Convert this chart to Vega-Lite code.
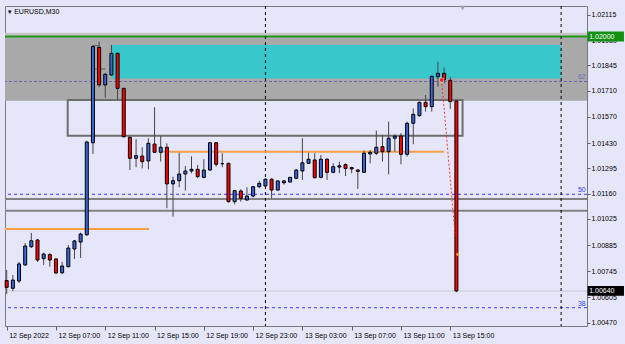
{
  "$schema": "https://vega.github.io/schema/vega-lite/v6.json",
  "width": 582,
  "height": 320,
  "autosize": {"type": "none"},
  "padding": {"left": 5, "top": 6, "right": 38, "bottom": 18},
  "background": "#e6e6fa",
  "resolve": {"axis": {"x": "independent", "y": "independent"}},
  "config": {
    "view": {"stroke": "#7a7a7a", "strokeWidth": 1, "fill": "#e6e6fa"},
    "text": {"font": "Liberation Sans", "fontSize": 7},
    "axis": {"labelFont": "Liberation Sans", "labelFontSize": 7, "labelColor": "#000000", "tickColor": "#606060", "domain": false, "grid": false, "labelFlush": false, "labelOverlap": false, "labelBound": false}
  },
  "datasets": {
    "candles": [
      {"i": 0, "o": 1.00695, "h": 1.00752, "l": 1.00623, "c": 1.00659},
      {"i": 1, "o": 1.00654, "h": 1.00725, "l": 1.00640, "c": 1.00698},
      {"i": 2, "o": 1.00693, "h": 1.00795, "l": 1.00682, "c": 1.00784},
      {"i": 3, "o": 1.00779, "h": 1.00896, "l": 1.00773, "c": 1.00880},
      {"i": 4, "o": 1.00876, "h": 1.00950, "l": 1.00869, "c": 1.00908},
      {"i": 5, "o": 1.00912, "h": 1.00918, "l": 1.00795, "c": 1.00805},
      {"i": 6, "o": 1.00812, "h": 1.00844, "l": 1.00779, "c": 1.00837},
      {"i": 7, "o": 1.00834, "h": 1.00843, "l": 1.00769, "c": 1.00805},
      {"i": 8, "o": 1.00811, "h": 1.00812, "l": 1.00730, "c": 1.00736},
      {"i": 9, "o": 1.00737, "h": 1.00796, "l": 1.00729, "c": 1.00773},
      {"i": 10, "o": 1.00769, "h": 1.00885, "l": 1.00768, "c": 1.00869},
      {"i": 11, "o": 1.00864, "h": 1.00912, "l": 1.00811, "c": 1.00907},
      {"i": 12, "o": 1.00901, "h": 1.00951, "l": 1.00816, "c": 1.00944},
      {"i": 13, "o": 1.00940, "h": 1.01443, "l": 1.00934, "c": 1.01436},
      {"i": 14, "o": 1.01432, "h": 1.01955, "l": 1.01372, "c": 1.01946},
      {"i": 15, "o": 1.01942, "h": 1.01972, "l": 1.01729, "c": 1.01741},
      {"i": 16, "o": 1.01741, "h": 1.01805, "l": 1.01673, "c": 1.01798},
      {"i": 17, "o": 1.01794, "h": 1.01955, "l": 1.01791, "c": 1.01910},
      {"i": 18, "o": 1.01910, "h": 1.01914, "l": 1.01661, "c": 1.01723},
      {"i": 19, "o": 1.01723, "h": 1.01726, "l": 1.01461, "c": 1.01464},
      {"i": 20, "o": 1.01461, "h": 1.01464, "l": 1.01286, "c": 1.01349},
      {"i": 21, "o": 1.01349, "h": 1.01451, "l": 1.01301, "c": 1.01363},
      {"i": 22, "o": 1.01361, "h": 1.01408, "l": 1.01295, "c": 1.01331},
      {"i": 23, "o": 1.01335, "h": 1.01456, "l": 1.01290, "c": 1.01429},
      {"i": 24, "o": 1.01425, "h": 1.01622, "l": 1.01378, "c": 1.01381},
      {"i": 25, "o": 1.01381, "h": 1.01468, "l": 1.01331, "c": 1.01408},
      {"i": 26, "o": 1.01408, "h": 1.01429, "l": 1.01082, "c": 1.01212},
      {"i": 27, "o": 1.01212, "h": 1.01251, "l": 1.01037, "c": 1.01229},
      {"i": 28, "o": 1.01229, "h": 1.01379, "l": 1.01194, "c": 1.01265},
      {"i": 29, "o": 1.01265, "h": 1.01308, "l": 1.01176, "c": 1.01281},
      {"i": 30, "o": 1.01281, "h": 1.01359, "l": 1.01269, "c": 1.01290},
      {"i": 31, "o": 1.01290, "h": 1.01313, "l": 1.01242, "c": 1.01251},
      {"i": 32, "o": 1.01247, "h": 1.01344, "l": 1.01242, "c": 1.01286},
      {"i": 33, "o": 1.01286, "h": 1.01436, "l": 1.01284, "c": 1.01432},
      {"i": 34, "o": 1.01432, "h": 1.01436, "l": 1.01304, "c": 1.01317},
      {"i": 35, "o": 1.01320, "h": 1.01376, "l": 1.01301, "c": 1.01320},
      {"i": 36, "o": 1.01322, "h": 1.01325, "l": 1.01112, "c": 1.01117},
      {"i": 37, "o": 1.01117, "h": 1.01179, "l": 1.01103, "c": 1.01176},
      {"i": 38, "o": 1.01174, "h": 1.01183, "l": 1.01117, "c": 1.01135},
      {"i": 39, "o": 1.01126, "h": 1.01194, "l": 1.01122, "c": 1.01147},
      {"i": 40, "o": 1.01147, "h": 1.01201, "l": 1.01140, "c": 1.01197},
      {"i": 41, "o": 1.01197, "h": 1.01229, "l": 1.01189, "c": 1.01215},
      {"i": 42, "o": 1.01201, "h": 1.01242, "l": 1.01197, "c": 1.01237},
      {"i": 43, "o": 1.01237, "h": 1.01242, "l": 1.01135, "c": 1.01179},
      {"i": 44, "o": 1.01179, "h": 1.01229, "l": 1.01176, "c": 1.01228},
      {"i": 45, "o": 1.01218, "h": 1.01233, "l": 1.01208, "c": 1.01228},
      {"i": 46, "o": 1.01222, "h": 1.01249, "l": 1.01220, "c": 1.01247},
      {"i": 47, "o": 1.01242, "h": 1.01292, "l": 1.01238, "c": 1.01286},
      {"i": 48, "o": 1.01281, "h": 1.01456, "l": 1.01233, "c": 1.01325},
      {"i": 49, "o": 1.01322, "h": 1.01379, "l": 1.01321, "c": 1.01344},
      {"i": 50, "o": 1.01340, "h": 1.01376, "l": 1.01242, "c": 1.01245},
      {"i": 51, "o": 1.01247, "h": 1.01367, "l": 1.01242, "c": 1.01344},
      {"i": 52, "o": 1.01344, "h": 1.01349, "l": 1.01233, "c": 1.01274},
      {"i": 53, "o": 1.01274, "h": 1.01322, "l": 1.01269, "c": 1.01304},
      {"i": 54, "o": 1.01302, "h": 1.01331, "l": 1.01269, "c": 1.01309},
      {"i": 55, "o": 1.01315, "h": 1.01322, "l": 1.01254, "c": 1.01295},
      {"i": 56, "o": 1.01299, "h": 1.01304, "l": 1.01269, "c": 1.01292},
      {"i": 57, "o": 1.01286, "h": 1.01290, "l": 1.01185, "c": 1.01279},
      {"i": 58, "o": 1.01274, "h": 1.01390, "l": 1.01272, "c": 1.01376},
      {"i": 59, "o": 1.01372, "h": 1.01393, "l": 1.01322, "c": 1.01381},
      {"i": 60, "o": 1.01376, "h": 1.01497, "l": 1.01367, "c": 1.01408},
      {"i": 61, "o": 1.01411, "h": 1.01474, "l": 1.01331, "c": 1.01384},
      {"i": 62, "o": 1.01384, "h": 1.01545, "l": 1.01263, "c": 1.01456},
      {"i": 63, "o": 1.01456, "h": 1.01477, "l": 1.01384, "c": 1.01467},
      {"i": 64, "o": 1.01468, "h": 1.01483, "l": 1.01317, "c": 1.01370},
      {"i": 65, "o": 1.01370, "h": 1.01545, "l": 1.01358, "c": 1.01536},
      {"i": 66, "o": 1.01536, "h": 1.01616, "l": 1.01424, "c": 1.01584},
      {"i": 67, "o": 1.01577, "h": 1.01652, "l": 1.01571, "c": 1.01648},
      {"i": 68, "o": 1.01648, "h": 1.01687, "l": 1.01598, "c": 1.01625},
      {"i": 69, "o": 1.01625, "h": 1.01791, "l": 1.01598, "c": 1.01787},
      {"i": 70, "o": 1.01785, "h": 1.01865, "l": 1.01732, "c": 1.01803},
      {"i": 71, "o": 1.01803, "h": 1.01833, "l": 1.01750, "c": 1.01768},
      {"i": 72, "o": 1.01766, "h": 1.01785, "l": 1.01613, "c": 1.01652},
      {"i": 73, "o": 1.01655, "h": 1.01655, "l": 1.00633, "c": 1.00640}
    ]
  },
  "layer": [
    {
      "data": {"values": [{"top": 1.0202, "bottom": 1.0200}]},
      "mark": {"type": "rect", "fill": "#c4c4c4"},
      "encoding": {
        "y": {"field": "top", "type": "quantitative", "axis": null, "scale": {"domain": [1.004523, 1.021631], "nice": false, "zero": false}},
        "y2": {"field": "bottom"}
      }
    },
    {
      "data": {"values": [{"top": 1.0200, "bottom": 1.01657}]},
      "mark": {"type": "rect", "fill": "#a9a9a9"},
      "encoding": {
        "y": {"field": "top", "type": "quantitative", "axis": null, "scale": {"domain": [1.004523, 1.021631], "nice": false, "zero": false}},
        "y2": {"field": "bottom"}
      }
    },
    {
      "data": {"values": [{"x1": 17, "x2": 90, "top": 1.01955, "bottom": 1.017755}]},
      "mark": {"type": "rect", "fill": "#38c7cb"},
      "encoding": {
        "x": {"field": "x1", "type": "quantitative", "axis": null, "scale": {"domain": [-0.276, 94.2], "nice": false, "zero": false, "padding": 0}},
        "x2": {"field": "x2"},
        "y": {"field": "top", "type": "quantitative", "axis": null, "scale": {"domain": [1.004523, 1.021631], "nice": false, "zero": false}},
        "y2": {"field": "bottom"}
      }
    },
    {
      "data": {"values": [{"p": 1.017595}]},
      "mark": {"type": "rule", "stroke": "#6a6ab4", "strokeDash": [3, 2], "strokeWidth": 1},
      "encoding": {"y": {"field": "p", "type": "quantitative", "axis": null, "scale": {"domain": [1.004523, 1.021631], "nice": false, "zero": false}}}
    },
    {
      "data": {"values": [{"p": 1.011565}, {"p": 1.005502}]},
      "mark": {"type": "rule", "stroke": "#3b3bff", "strokeDash": [3, 3], "strokeWidth": 1},
      "encoding": {"y": {"field": "p", "type": "quantitative", "axis": null, "scale": {"domain": [1.004523, 1.021631], "nice": false, "zero": false}}}
    },
    {
      "data": {"values": [{"p": 1.011313}, {"p": 1.010687}]},
      "mark": {"type": "rule", "stroke": "#828282", "strokeWidth": 2},
      "encoding": {"y": {"field": "p", "type": "quantitative", "axis": null, "scale": {"domain": [1.004523, 1.021631], "nice": false, "zero": false}}}
    },
    {
      "data": {"values": [{"p": 1.006395}]},
      "mark": {"type": "rule", "stroke": "#c8c8d0", "strokeWidth": 1},
      "encoding": {"y": {"field": "p", "type": "quantitative", "axis": null, "scale": {"domain": [1.004523, 1.021631], "nice": false, "zero": false}}}
    },
    {
      "data": {"values": [{"p": 1.0200}]},
      "mark": {"type": "rule", "stroke": "#1e961e", "strokeWidth": 2},
      "encoding": {"y": {"field": "p", "type": "quantitative", "axis": null, "scale": {"domain": [1.004523, 1.021631], "nice": false, "zero": false}}}
    },
    {
      "data": {"values": [{"d": 42}, {"d": 90}]},
      "mark": {"type": "rule", "stroke": "#000000", "strokeDash": [3, 3], "strokeWidth": 1},
      "encoding": {"x": {"field": "d", "type": "quantitative", "axis": null, "scale": {"domain": [-0.276, 94.2], "nice": false, "zero": false, "padding": 0}}}
    },
    {
      "data": {"values": [{"x1": 9.9, "x2": 74.0, "top": 1.016606, "bottom": 1.014698}]},
      "mark": {"type": "rect", "fillOpacity": 0, "stroke": "#6e6e6e", "strokeWidth": 2},
      "encoding": {
        "x": {"field": "x1", "type": "quantitative", "axis": null, "scale": {"domain": [-0.276, 94.2], "nice": false, "zero": false, "padding": 0}},
        "x2": {"field": "x2"},
        "y": {"field": "top", "type": "quantitative", "axis": null, "scale": {"domain": [1.004523, 1.021631], "nice": false, "zero": false}},
        "y2": {"field": "bottom"}
      }
    },
    {
      "data": {"values": [{"x1": -0.276, "x2": 23.1, "p": 1.009709}, {"x1": 25, "x2": 71, "p": 1.013842}]},
      "mark": {"type": "rule", "stroke": "#f5a043", "strokeWidth": 2},
      "encoding": {
        "x": {"field": "x1", "type": "quantitative", "axis": null, "scale": {"domain": [-0.276, 94.2], "nice": false, "zero": false, "padding": 0}},
        "x2": {"field": "x2"},
        "y": {"field": "p", "type": "quantitative", "axis": null, "scale": {"domain": [1.004523, 1.021631], "nice": false, "zero": false}}
      }
    },
    {
      "data": {"values": [{"x1": 14, "x2": 15, "p": 1.019509}, {"x1": 14, "x2": 16, "p": 1.018263}]},
      "mark": {"type": "rule", "stroke": "#5a5a5a", "strokeWidth": 1},
      "encoding": {
        "x": {"field": "x1", "type": "quantitative", "axis": null, "scale": {"domain": [-0.276, 94.2], "nice": false, "zero": false, "padding": 0}},
        "x2": {"field": "x2"},
        "y": {"field": "p", "type": "quantitative", "axis": null, "scale": {"domain": [1.004523, 1.021631], "nice": false, "zero": false}}
      }
    },
    {
      "data": {"name": "candles"},
      "mark": {"type": "rule", "stroke": "#454545", "strokeWidth": 1},
      "encoding": {
        "x": {"field": "i", "type": "quantitative", "axis": null, "scale": {"domain": [-0.276, 94.2], "nice": false, "zero": false, "padding": 0}},
        "y": {"field": "l", "type": "quantitative", "axis": null, "scale": {"domain": [1.004523, 1.021631], "nice": false, "zero": false}},
        "y2": {"field": "h"}
      }
    },
    {
      "data": {"name": "candles"},
      "mark": {"type": "bar", "size": 3, "stroke": "#000000", "strokeWidth": 1},
      "encoding": {
        "x": {
          "field": "i", "type": "quantitative",
          "scale": {"domain": [-0.276, 94.2], "nice": false, "zero": false, "padding": 0},
          "axis": {
            "orient": "bottom", "title": null, "values": [0, 8, 16, 24, 32, 40, 48, 56, 64, 72],
            "labelExpr": "['12 Sep 2022','12 Sep 07:00','12 Sep 11:00','12 Sep 15:00','12 Sep 19:00','12 Sep 23:00','13 Sep 03:00','13 Sep 07:00','13 Sep 11:00','13 Sep 15:00'][round(datum.value/8)]",
            "labelAlign": "left", "labelBaseline": "top", "labelOffset": 2, "labelPadding": 1,
            "tickSize": 4, "labelOverlap": false, "labelFlush": false, "labelBound": false
          }
        },
        "y": {
          "field": "o", "type": "quantitative",
          "scale": {"domain": [1.004523, 1.021631], "nice": false, "zero": false},
          "axis": {
            "orient": "right", "title": null,
            "values": [1.02115, 1.0198, 1.01845, 1.0171, 1.0157, 1.0143, 1.01295, 1.0116, 1.01025, 1.00885, 1.00745, 1.00605, 1.0047],
            "format": ".5f", "labelPadding": 1, "tickSize": 3, "labelOverlap": false, "labelFlush": false, "labelBound": false
          }
        },
        "y2": {"field": "c"},
        "fill": {
          "condition": [
            {"test": "datum.c > datum.o", "value": "#3a66d8"},
            {"test": "datum.c < datum.o", "value": "#ff0000"}
          ],
          "value": "#000000"
        }
      }
    },
    {
      "data": {"values": [{"t": 70.6, "p": 1.017675}, {"t": 72.8, "p": 1.009335}]},
      "mark": {"type": "line", "stroke": "#ff3030", "strokeDash": [2, 2], "strokeWidth": 1},
      "encoding": {
        "x": {"field": "t", "type": "quantitative", "axis": null, "scale": {"domain": [-0.276, 94.2], "nice": false, "zero": false, "padding": 0}},
        "y": {"field": "p", "type": "quantitative", "axis": null, "scale": {"domain": [1.004523, 1.021631], "nice": false, "zero": false}}
      }
    },
    {
      "data": {"values": [{"t": 70.6, "p": 1.017675}]},
      "mark": {"type": "point", "filled": true, "fill": "#ff2020", "stroke": "#ffffff", "strokeWidth": 0.5, "size": 22, "opacity": 1},
      "encoding": {
        "x": {"field": "t", "type": "quantitative", "axis": null, "scale": {"domain": [-0.276, 94.2], "nice": false, "zero": false, "padding": 0}},
        "y": {"field": "p", "type": "quantitative", "axis": null, "scale": {"domain": [1.004523, 1.021631], "nice": false, "zero": false}}
      }
    },
    {
      "data": {"values": [{"t": 73.2, "p": 1.008357}]},
      "mark": {"type": "point", "shape": "diamond", "filled": true, "fill": "#ffa030", "size": 14, "opacity": 1},
      "encoding": {
        "x": {"field": "t", "type": "quantitative", "axis": null, "scale": {"domain": [-0.276, 94.2], "nice": false, "zero": false, "padding": 0}},
        "y": {"field": "p", "type": "quantitative", "axis": null, "scale": {"domain": [1.004523, 1.021631], "nice": false, "zero": false}}
      }
    },
    {
      "data": {"values": [{"t": 74.0, "p": 1.021524}]},
      "mark": {"type": "point", "shape": "triangle-down", "filled": true, "fill": "#a0a0a8", "size": 28, "opacity": 1},
      "encoding": {
        "x": {"field": "t", "type": "quantitative", "axis": null, "scale": {"domain": [-0.276, 94.2], "nice": false, "zero": false, "padding": 0}},
        "y": {"field": "p", "type": "quantitative", "axis": null, "scale": {"domain": [1.004523, 1.021631], "nice": false, "zero": false}}
      }
    },
    {
      "data": {"values": [{"lab": "62", "t": 94.0, "p": 1.017595, "col": "a"}, {"lab": "50", "t": 94.0, "p": 1.011565, "col": "b"}, {"lab": "38", "t": 94.0, "p": 1.005502, "col": "b"}]},
      "mark": {"type": "text", "align": "right", "baseline": "bottom", "dy": -1, "fontSize": 7},
      "encoding": {
        "x": {"field": "t", "type": "quantitative", "axis": null, "scale": {"domain": [-0.276, 94.2], "nice": false, "zero": false, "padding": 0}},
        "y": {"field": "p", "type": "quantitative", "axis": null, "scale": {"domain": [1.004523, 1.021631], "nice": false, "zero": false}},
        "text": {"field": "lab"},
        "color": {"field": "col", "type": "nominal", "scale": {"domain": ["a", "b"], "range": ["#6a6ab4", "#3b3bff"]}, "legend": null}
      }
    },
    {
      "data": {"values": [{"lab": "▾ EURUSD,M30", "t": 0.25, "p": 1.02131}]},
      "mark": {"type": "text", "align": "left", "baseline": "middle", "fontSize": 7, "color": "#000000"},
      "encoding": {
        "x": {"field": "t", "type": "quantitative", "axis": null, "scale": {"domain": [-0.276, 94.2], "nice": false, "zero": false, "padding": 0}},
        "y": {"field": "p", "type": "quantitative", "axis": null, "scale": {"domain": [1.004523, 1.021631], "nice": false, "zero": false}},
        "text": {"field": "lab"}
      }
    },
    {
      "data": {"values": [{"t1": 94.3, "t2": 100.2, "lo": 1.019735, "hi": 1.020265, "kind": "g"}, {"t1": 94.3, "t2": 100.2, "lo": 1.006135, "hi": 1.006665, "kind": "k"}]},
      "mark": {"type": "rect"},
      "encoding": {
        "x": {"field": "t1", "type": "quantitative", "axis": null, "scale": {"domain": [-0.276, 94.2], "nice": false, "zero": false, "padding": 0}},
        "x2": {"field": "t2"},
        "y": {"field": "lo", "type": "quantitative", "axis": null, "scale": {"domain": [1.004523, 1.021631], "nice": false, "zero": false}},
        "y2": {"field": "hi"},
        "fill": {"field": "kind", "type": "nominal", "scale": {"domain": ["g", "k"], "range": ["#119011", "#000000"]}, "legend": null}
      }
    },
    {
      "data": {"values": [{"lab": "1.02000", "t": 94.55, "p": 1.0200}, {"lab": "1.00640", "t": 94.55, "p": 1.0064}]},
      "mark": {"type": "text", "align": "left", "baseline": "middle", "fontSize": 7, "color": "#ffffff"},
      "encoding": {
        "x": {"field": "t", "type": "quantitative", "axis": null, "scale": {"domain": [-0.276, 94.2], "nice": false, "zero": false, "padding": 0}},
        "y": {"field": "p", "type": "quantitative", "axis": null, "scale": {"domain": [1.004523, 1.021631], "nice": false, "zero": false}},
        "text": {"field": "lab"}
      }
    }
  ]
}
